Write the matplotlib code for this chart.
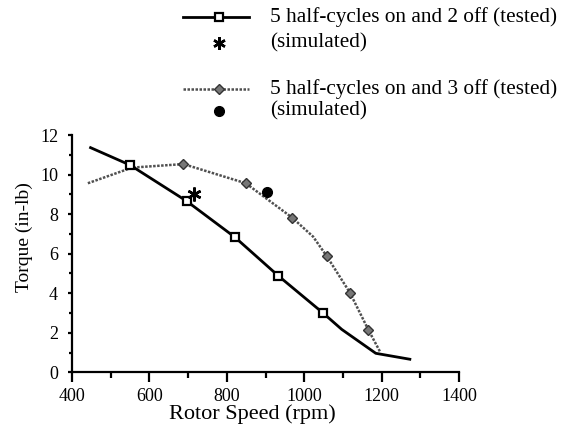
import matplotlib
matplotlib.use("Agg")
import matplotlib.pyplot as plt
from matplotlib.lines import Line2D

plt.rcParams['font.family'] = ['Liberation Serif', 'DejaVu Serif']

# Data
speed_2off = [448, 550, 696, 821, 933, 1048, 1097, 1185, 1273]
torque_2off = [11.36, 10.48, 8.66, 6.83, 4.88, 3.01, 2.17, 0.96, 0.66]
marks_2off = [1, 2, 3, 4, 5]
sim_2off_speed = [716]
sim_2off_torque = [9.01]

speed_3off = [441, 555, 688, 849, 969, 1023, 1058, 1118, 1166, 1196]
torque_3off = [9.56, 10.35, 10.53, 9.56, 7.82, 6.86, 5.88, 4.03, 2.14, 1.04]
marks_3off = [2, 3, 4, 6, 7, 8]
sim_3off_speed = [903]
sim_3off_torque = [9.13]

legend_labels = ["5 half-cycles on and 2 off (tested)", "(simulated)",
                 "5 half-cycles on and 3 off (tested)", "(simulated)"]

W, H = 566, 429
fig = plt.figure(figsize=(W / 100, H / 100), dpi=100)
ax = fig.add_axes([72 / W, 1 - 372.3 / H, 387 / W, 237.3 / H])

sq_style = dict(color='black', lw=2.0, marker='s', markersize=6,
                markerfacecolor='white', markeredgecolor='black', markeredgewidth=1.6)
dm_style = dict(color='#505050', lw=1.8, linestyle=(0, (1, 0.6)), marker='D', markersize=5,
                markerfacecolor='#777777', markeredgecolor='#333333', markeredgewidth=1.0)

ax.plot(speed_3off, torque_3off, markevery=marks_3off, clip_on=False, **dm_style)
ax.plot(speed_2off, torque_2off, markevery=marks_2off, clip_on=False, **sq_style)
ax.plot(sim_2off_speed, sim_2off_torque, linestyle='none', marker=(6, 2, 0), markersize=10,
        color='black', markeredgewidth=1.8)
ax.plot(sim_3off_speed, sim_3off_torque, linestyle='none', marker='o', markersize=7, color='black')

ax.set_xlim(400, 1400)
ax.set_ylim(0, 12)
ax.set_xticks(range(400, 1401, 200))
ax.set_xticks(range(500, 1400, 200), minor=True)
ax.set_yticks(range(0, 13, 2))
ax.set_yticks(range(1, 12, 2), minor=True)
for s in ['top', 'right']:
    ax.spines[s].set_visible(False)
for s in ['left', 'bottom']:
    ax.spines[s].set_linewidth(1.6)
ax.tick_params(axis='x', which='major', direction='out', length=7, width=1.6, labelsize=13, pad=4)
ax.tick_params(axis='x', which='minor', direction='out', length=4, width=1.6)
ax.tick_params(axis='y', which='major', direction='out', length=3, width=1.6, labelsize=13, pad=7)
ax.tick_params(axis='y', which='minor', direction='out', length=2.5, width=1.6)
ax.set_xlabel("Rotor Speed (rpm)", fontsize=16)
ax.set_ylabel("Torque (in-lb)", fontsize=14)
ax.xaxis.set_label_coords(0.465, -(404 - 372.3) / 237.3)
ax.yaxis.set_label_coords(-(72 - 33) / 387, 0.57)

# Manual legend in figure pixel coordinates
def fx(x):
    return x / W

def fy(y):
    return 1 - y / H

rows = [17, 43, 89, 111]
x0, x1, xm, xt = 183, 249, 219, 270
fig.add_artist(Line2D([fx(x0), fx(x1)], [fy(rows[0])] * 2, color='black', lw=2.0))
fig.add_artist(Line2D([fx(xm)], [fy(rows[0])], linestyle='none', marker='s', markersize=6,
                      markerfacecolor='white', markeredgecolor='black', markeredgewidth=1.6))
fig.add_artist(Line2D([fx(xm)], [fy(rows[1])], linestyle='none', marker=(6, 2, 0),
                      markersize=9, color='black', markeredgewidth=1.8))
fig.add_artist(Line2D([fx(x0), fx(x1)], [fy(rows[2])] * 2, color='#505050', lw=1.8,
                      linestyle=(0, (1, 0.6))))
fig.add_artist(Line2D([fx(xm)], [fy(rows[2])], linestyle='none', marker='D', markersize=5,
                      markerfacecolor='#777777', markeredgecolor='#333333'))
fig.add_artist(Line2D([fx(xm)], [fy(rows[3])], linestyle='none', marker='o', markersize=7,
                      color='black'))
for r, lab in zip(rows, legend_labels):
    fig.text(fx(xt), fy(r), lab, fontsize=15.3, va='center', ha='left')

fig.savefig("out.png", dpi=100)
